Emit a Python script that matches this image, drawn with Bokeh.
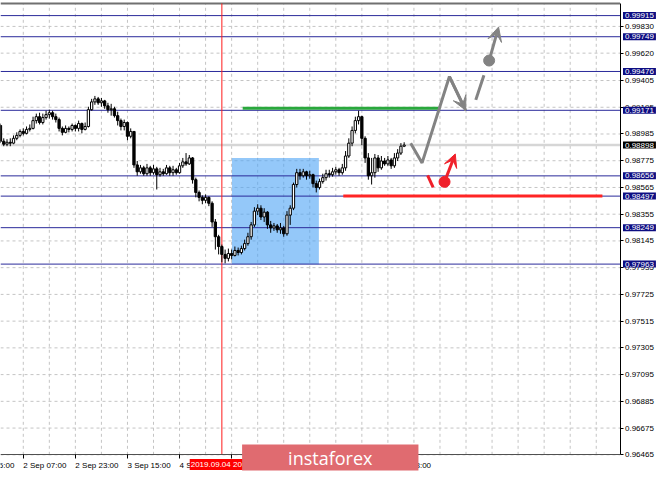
from bokeh.plotting import figure
from bokeh.models import (Range1d, FixedTicker, Label, NumeralTickFormatter, LinearAxis,
                          Arrow, VeeHead, ColumnDataSource)
from bokeh.core.properties import value
from bokeh.embed import file_html
from bokeh.resources import INLINE

# ---------------- data (hourly candles, x = hours since 2 Sep 00:00) ----------------
hours = list(range(125))
first_open = 0.99052
close = [
    0.98928, 0.98905, 0.98920, 0.98913, 0.98951, 0.98974, 0.99005, 0.98990, 0.99021, 0.99029,
    0.99090, 0.99121, 0.99075, 0.99114, 0.99137, 0.99152, 0.99121, 0.99098, 0.99029, 0.98998,
    0.99029, 0.99021, 0.99052, 0.99029, 0.99067, 0.99021, 0.99044, 0.99176, 0.99237, 0.99261,
    0.99230, 0.99245, 0.99206, 0.99176, 0.99183, 0.99129, 0.99090, 0.99044, 0.99075, 0.98967,
    0.99005, 0.98742, 0.98688, 0.98719, 0.98673, 0.98719, 0.98681, 0.98711, 0.98665, 0.98688,
    0.98673, 0.98719, 0.98681, 0.98704, 0.98681, 0.98735, 0.98766, 0.98750, 0.98797, 0.98626,
    0.98526, 0.98487, 0.98464, 0.98487, 0.98441, 0.98294, 0.98178, 0.98101, 0.98039, 0.98008,
    0.98046, 0.98031, 0.98070, 0.98054, 0.98085, 0.98124, 0.98178, 0.98271, 0.98379, 0.98402,
    0.98333, 0.98371, 0.98271, 0.98247, 0.98263, 0.98232, 0.98247, 0.98201, 0.98348, 0.98402,
    0.98588, 0.98681, 0.98657, 0.98688, 0.98657, 0.98665, 0.98595, 0.98565, 0.98611, 0.98642,
    0.98673, 0.98665, 0.98688, 0.98704, 0.98681, 0.98719, 0.98812, 0.98913, 0.99013, 0.99090,
    0.99121, 0.98951, 0.98797, 0.98657, 0.98681, 0.98797, 0.98719, 0.98773, 0.98750, 0.98781,
    0.98735, 0.98797, 0.98835, 0.98889, 0.98898,
]
high = [
    0.99067, 0.98951, 0.98944, 0.98951, 0.98974, 0.98998, 0.99021, 0.99029, 0.99044, 0.99060,
    0.99121, 0.99145, 0.99152, 0.99145, 0.99168, 0.99176, 0.99168, 0.99145, 0.99114, 0.99044,
    0.99052, 0.99044, 0.99067, 0.99060, 0.99090, 0.99075, 0.99075, 0.99199, 0.99261, 0.99284,
    0.99276, 0.99268, 0.99253, 0.99230, 0.99222, 0.99199, 0.99160, 0.99106, 0.99098, 0.99083,
    0.99029, 0.99005, 0.98773, 0.98742, 0.98735, 0.98750, 0.98735, 0.98742, 0.98727, 0.98719,
    0.98711, 0.98742, 0.98735, 0.98735, 0.98719, 0.98758, 0.98797, 0.98835, 0.98820, 0.98804,
    0.98642, 0.98541, 0.98503, 0.98510, 0.98495, 0.98456, 0.98317, 0.98193, 0.98116, 0.98077,
    0.98085, 0.98077, 0.98101, 0.98093, 0.98108, 0.98155, 0.98209, 0.98294, 0.98410, 0.98433,
    0.98425, 0.98402, 0.98379, 0.98302, 0.98286, 0.98278, 0.98286, 0.98263, 0.98379, 0.98425,
    0.98603, 0.98711, 0.98711, 0.98711, 0.98696, 0.98696, 0.98673, 0.98619, 0.98634, 0.98673,
    0.98704, 0.98704, 0.98719, 0.98727, 0.98719, 0.98750, 0.98851, 0.98951, 0.99044, 0.99121,
    0.99168, 0.99129, 0.98967, 0.98835, 0.98797, 0.98828, 0.98820, 0.98812, 0.98797, 0.98812,
    0.98797, 0.98835, 0.98866, 0.98913, 0.98920,
]
low = [
    0.98913, 0.98889, 0.98889, 0.98889, 0.98905, 0.98936, 0.98959, 0.98974, 0.98982, 0.99005,
    0.99021, 0.99067, 0.99060, 0.99060, 0.99098, 0.99106, 0.99098, 0.99075, 0.99005, 0.98974,
    0.98990, 0.98998, 0.99005, 0.99005, 0.99005, 0.98990, 0.99013, 0.99036, 0.99168, 0.99214,
    0.99214, 0.99199, 0.99183, 0.99152, 0.99129, 0.99114, 0.99052, 0.99013, 0.99013, 0.98936,
    0.98951, 0.98719, 0.98657, 0.98673, 0.98657, 0.98657, 0.98657, 0.98665, 0.98549, 0.98650,
    0.98657, 0.98665, 0.98657, 0.98657, 0.98665, 0.98673, 0.98719, 0.98735, 0.98742, 0.98595,
    0.98487, 0.98456, 0.98433, 0.98441, 0.98418, 0.98255, 0.98077, 0.98039, 0.97977, 0.97969,
    0.97984, 0.98000, 0.98023, 0.98031, 0.98039, 0.98070, 0.98108, 0.98155, 0.98255, 0.98348,
    0.98309, 0.98294, 0.98240, 0.98209, 0.98224, 0.98209, 0.98201, 0.98178, 0.98186, 0.98271,
    0.98387, 0.98565, 0.98626, 0.98642, 0.98626, 0.98634, 0.98565, 0.98526, 0.98549, 0.98595,
    0.98619, 0.98642, 0.98650, 0.98665, 0.98657, 0.98665, 0.98696, 0.98797, 0.98889, 0.98990,
    0.99060, 0.98897, 0.98758, 0.98626, 0.98588, 0.98642, 0.98688, 0.98704, 0.98735, 0.98735,
    0.98711, 0.98719, 0.98773, 0.98820, 0.98882,
]

level_prices = [0.99915, 0.99749, 0.99476, 0.99171, 0.98656, 0.98497, 0.98249, 0.97963]
current_price = 0.98898
y_ticks = [0.96465, 0.96675, 0.96885, 0.97095, 0.97305, 0.97515, 0.97725, 0.97935, 0.98145,
           0.98355, 0.98565, 0.98775, 0.98985, 0.99195, 0.99405, 0.99620, 0.99830]
x_tick_hours = [7, 23, 39, 55, 71, 87, 103, 119]
x_tick_labels = ["2 Sep 07:00", "2 Sep 23:00", "3 Sep 15:00", "4 Sep 07:00",
                 "4 Sep 23:00", "5 Sep 15:00", "6 Sep 07:00", "6 Sep 23:00"]
prev_tick_hour, prev_tick_label = -9, "1 Sep 15:00"
grid_hours = [7, 15, 23, 31, 39, 47, 55, 63, 71, 79, 87, 95, 103, 111, 119, 127, 135,
              143, 151, 159, 167, 175, 183]
marker_hour, marker_label = 68, "2019.09.04 20:00"
banner_hour, banner_text = 101.3, "instaforex"

# drawn objects (hours, prices)
zone_hours = [71.1, 97.8]
zone_prices = [0.97961, 0.98797]
green_hours, green_price = [74.4, 135.1], 0.99188
red_hours, red_price = [105.3, 184.9], 0.98497
path_hours = [126.0, 129.5, 137.9, 142.9]
path_prices = [0.98913, 0.98758, 0.99436, 0.99171]
dash_hours, dash_prices = [146.0, 148.5], [0.99253, 0.99446]
up_hours, up_prices = [150.1, 153.0], [0.99562, 0.99825]
rdash_hours, rdash_prices = [131.2, 132.9], [0.98660, 0.98565]
rup_hours, rup_prices = [136.4, 139.7], [0.98609, 0.98828]

# chart window (price pane) and canvas geometry
X0, X1 = 0.0, 190.3
Y0, Y1 = 0.96465, 1.00010
CANVAS_W, CANVAS_H = 657, 473
PANE_W, PANE_TOP, PANE_BOTTOM = 619.5, 3.0, 18.7
PANE_H = CANVAS_H - PANE_TOP - PANE_BOTTOM
px_h = PANE_W / (X1 - X0)
px_p = PANE_H / (Y1 - Y0)

p = figure(width=CANVAS_W, height=CANVAS_H, output_backend="svg", toolbar_location=None,
           x_range=Range1d(X0, X0 + CANVAS_W / px_h),
           y_range=Range1d(Y0 - PANE_BOTTOM / px_p, Y1 + PANE_TOP / px_p),
           x_axis_location=None, y_axis_location=None, min_border=0)
p.background_fill_color = "white"
p.border_fill_color = "white"
p.outline_line_color = None
p.grid.visible = False

FONT = "Arial"

# price axis on the right edge of the pane
yaxis = LinearAxis(fixed_location=X1, bounds=(Y0, Y1),
                   ticker=FixedTicker(ticks=y_ticks, minor_ticks=[]),
                   formatter=NumeralTickFormatter(format="0.00000"))
yaxis.major_tick_out = 3
yaxis.major_tick_in = 0
yaxis.minor_tick_line_color = None
yaxis.major_label_standoff = 2
yaxis.axis_line_color = "black"
yaxis.major_tick_line_color = "black"
yaxis.major_label_text_font = FONT
yaxis.major_label_text_font_size = "8px"
yaxis.major_label_text_color = "black"
p.add_layout(yaxis, "right")

# time axis at the bottom of the pane
xaxis = LinearAxis(fixed_location=Y0, bounds=(X0, X1),
                   ticker=FixedTicker(ticks=x_tick_hours, minor_ticks=[]))
xaxis.major_tick_out = 4
xaxis.major_tick_in = 0
xaxis.minor_tick_line_color = None
xaxis.axis_line_color = "#505050"
xaxis.major_tick_line_color = "black"
xaxis.major_label_text_color = None
p.add_layout(xaxis, "below")
p.text(x=[prev_tick_hour] + x_tick_hours, y=[Y0] * (len(x_tick_hours) + 1),
       text=[prev_tick_label] + x_tick_labels, y_offset=6, text_align="left", text_baseline="top",
       text_font=value(FONT), text_font_size="8px", text_color="black")

# dashed grid inside the pane
p.segment(x0=grid_hours, x1=grid_hours, y0=[Y0] * len(grid_hours), y1=[Y1] * len(grid_hours),
          line_color="#c4c4c4", line_dash="3 3", line_width=1)
p.segment(x0=[X0] * len(y_ticks), x1=[X1] * len(y_ticks), y0=y_ticks, y1=y_ticks,
          line_color="#c4c4c4", line_dash="3 3", line_width=1)
# top border
p.segment(x0=[X0], x1=[X1], y0=[Y1], y1=[Y1], line_color="#707070", line_width=2)

# blue zone
p.quad(left=[zone_hours[0]], right=[zone_hours[1]], bottom=[zone_prices[0]], top=[zone_prices[1]],
       fill_color="#4da3f5", fill_alpha=0.6, line_color=None)

# level lines and current price line
n = len(level_prices)
p.segment(x0=[X0] * n, x1=[X1] * n, y0=level_prices, y1=level_prices,
          line_color="#2a2a9a", line_width=1)
p.segment(x0=[X0], x1=[X1], y0=[current_price], y1=[current_price],
          line_color="#d6d6d6", line_width=2.5)
# red vertical marker
p.segment(x0=[marker_hour], x1=[marker_hour], y0=[Y0], y1=[Y1], line_color="#ff1a1a", line_width=1)

# candles
opens = [first_open] + close[:-1]
hi = [max(h, o, c) for h, o, c in zip(high, opens, close)]
lo = [min(l, o, c) for l, o, c in zip(low, opens, close)]
src = ColumnDataSource(dict(
    x=hours, h=hi, l=lo,
    top=[max(o, c) for o, c in zip(opens, close)],
    bot=[min(o, c) for o, c in zip(opens, close)],
    fill=["white" if c >= o else "black" for o, c in zip(opens, close)],
))
p.segment(x0="x", y0="l", x1="x", y1="h", source=src, line_color="black", line_width=1)
p.vbar(x="x", width=0.7, top="top", bottom="bot", source=src, fill_color="fill",
       line_color="black", line_width=1)

# green & red horizontal segments
p.line(green_hours, [green_price] * 2, line_color="#2aa83c", line_width=3)
p.line(red_hours, [red_price] * 2, line_color="#ff2424", line_width=3)

# gray forecast path
GRAY = "#838383"
p.line(path_hours, path_prices, line_color=GRAY, line_width=3)
p.add_layout(Arrow(x_start=path_hours[-2], y_start=path_prices[-2], x_end=path_hours[-1], y_end=path_prices[-1],
                   line_color=GRAY, line_width=3,
                   end=VeeHead(size=14, fill_color=GRAY, line_color=GRAY, line_width=1)))
p.line(dash_hours, dash_prices, line_color=GRAY, line_width=3)
p.scatter([up_hours[0]], [up_prices[0]], size=11, fill_color=GRAY, line_color=GRAY)
p.add_layout(Arrow(x_start=up_hours[0], y_start=up_prices[0], x_end=up_hours[1], y_end=up_prices[1],
                   line_color=GRAY, line_width=3,
                   end=VeeHead(size=14, fill_color=GRAY, line_color=GRAY, line_width=1)))

# red forecast
RED = "#f0202a"
p.line(rdash_hours, rdash_prices, line_color=RED, line_width=3)
p.scatter([rup_hours[0]], [rup_prices[0]], size=11, fill_color=RED, line_color=RED)
p.add_layout(Arrow(x_start=rup_hours[0], y_start=rup_prices[0], x_end=rup_hours[1], y_end=rup_prices[1],
                   line_color=RED, line_width=3,
                   end=VeeHead(size=13, fill_color=RED, line_color=RED, line_width=1)))

# price boxes on the right axis
for lv in level_prices:
    p.add_layout(Label(x=X1, y=lv, x_offset=3, text=f"{lv:.5f}", text_align="left",
                       text_baseline="middle", text_color="white", text_font=FONT,
                       text_font_size="8px", background_fill_color="#0d0d82",
                       padding=dict(left=2, right=2, top=1, bottom=1)))
p.add_layout(Label(x=X1, y=current_price, x_offset=3, text=f"{current_price:.5f}", text_align="left",
                   text_baseline="middle", text_color="white", text_font=FONT,
                   text_font_size="8px", background_fill_color="black",
                   padding=dict(left=2, right=2, top=1, bottom=1)))

# red time marker label
p.add_layout(Label(x=marker_hour, y=9, y_units="screen", text=marker_label, text_align="center",
                   text_baseline="middle", text_color="white", text_font=FONT, text_font_size="8px",
                   background_fill_color="#ff0000", padding=dict(left=1, right=1, top=1, bottom=1)))

# instaforex banner
p.add_layout(Label(x=banner_hour, y=16, y_units="screen", text=banner_text, text_align="center",
                   text_baseline="middle", text_color="white", text_font="Open Sans",
                   text_font_size="18px", background_fill_color="#e06b70",
                   padding=dict(left=46, right=46, top=1, bottom=1)))

open("out.html", "w").write(file_html(p, INLINE))
